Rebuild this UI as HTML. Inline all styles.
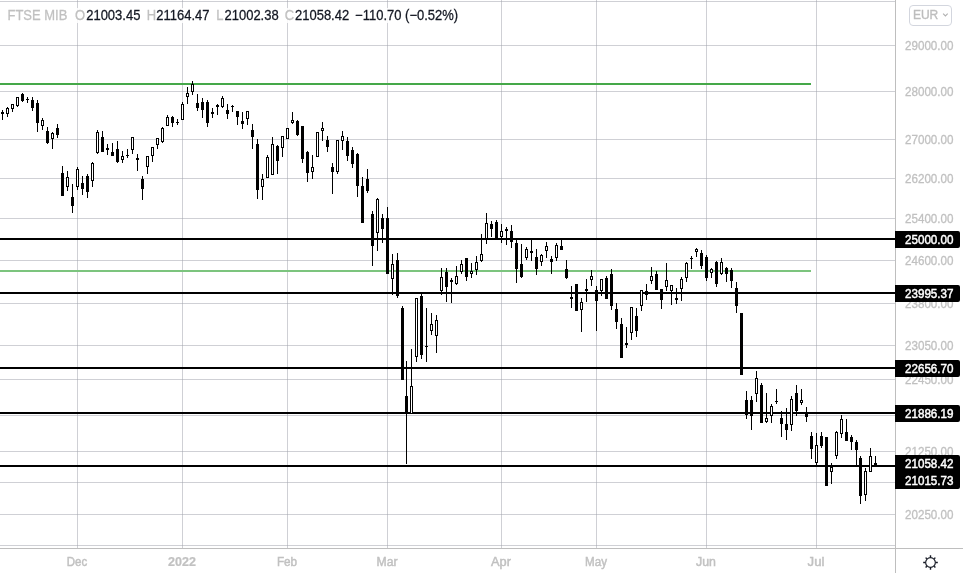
<!DOCTYPE html>
<html><head><meta charset="utf-8"><title>FTSE MIB</title>
<style>
html,body{margin:0;padding:0;background:#fff;}
body{width:963px;height:573px;overflow:hidden;position:relative;}
svg{position:absolute;left:0;top:0;}
.txt{will-change:transform;}
</style></head>
<body>
<svg width="963" height="573" viewBox="0 0 963 573" shape-rendering="crispEdges">
<path fill="rgba(160,162,171,0.5)" d="M0 1h895v1H0zM0 45h895v1H0zM0 91h895v1H0zM0 139h895v1H0zM0 178h895v1H0zM0 218h895v1H0zM0 260h895v1H0zM0 303h895v1H0zM0 345h895v1H0zM0 379h895v1H0zM0 415h895v1H0zM0 451h895v1H0zM0 482h895v1H0zM0 514h895v1H0zM0 545h895v1H0z"/>
<path fill="rgba(160,162,171,0.5)" d="M77 0h1v548h-1zM182 0h1v548h-1zM287 0h1v548h-1zM387 0h1v548h-1zM501 0h1v548h-1zM596 0h1v548h-1zM706 0h1v548h-1zM816 0h1v548h-1z"/>
<rect x="0" y="83" width="811" height="2" fill="#45a849"/>
<rect x="0" y="270" width="811" height="2" fill="#7cc47e"/>
<path fill="#000" d="M0 238h895v2H0zM0 292h895v2H0zM0 367h895v2H0zM0 412h895v2H0zM0 465h895v2H0z"/>
<path fill="#000" d="M2 110h1v10h-1zM1 112h3v2h-3zM7 107h1v10h-1zM6 108h3v6h-3zM12 104h1v8h-1zM11 104h3v5h-3zM17 97h1v10h-1zM16 97h3v9h-3zM22 93h1v9h-1zM21 94h3v7h-3zM27 97h1v6h-1zM26 99h3v1h-3zM32 97h1v14h-1zM31 100h3v8h-3zM37 100h1v32h-1zM36 103h3v20h-3zM42 118h1v12h-1zM41 120h3v6h-3zM47 127h1v17h-1zM46 131h3v12h-3zM52 132h1v17h-1zM51 133h3v6h-3zM57 124h1v14h-1zM56 128h3v7h-3zM62 166h1v30h-1zM61 173h3v23h-3zM67 171h1v20h-1zM66 177h3v10h-3zM72 184h1v29h-1zM71 197h3v9h-3zM77 167h1v23h-1zM76 169h3v18h-3zM82 176h1v19h-1zM81 183h3v6h-3zM87 174h1v24h-1zM86 176h3v16h-3zM92 162h1v25h-1zM91 163h3v18h-3zM97 130h1v24h-1zM96 132h3v21h-3zM102 131h1v21h-1zM101 137h3v15h-3zM107 144h1v11h-1zM106 148h3v2h-3zM112 143h1v13h-1zM111 152h3v4h-3zM117 141h1v22h-1zM116 149h3v13h-3zM122 151h1v12h-1zM121 156h3v4h-3zM127 149h1v9h-1zM126 155h3v1h-3zM132 137h1v17h-1zM131 137h3v13h-3zM137 154h1v17h-1zM136 158h3v2h-3zM142 176h1v24h-1zM141 179h3v10h-3zM147 156h1v18h-1zM146 156h3v11h-3zM152 147h1v15h-1zM151 147h3v9h-3zM157 138h1v11h-1zM156 138h3v7h-3zM162 127h1v16h-1zM161 128h3v14h-3zM167 115h1v11h-1zM166 117h3v9h-3zM172 116h1v11h-1zM171 117h3v6h-3zM177 119h1v6h-1zM176 122h3v1h-3zM182 102h1v18h-1zM181 104h3v16h-3zM187 87h1v17h-1zM186 93h3v4h-3zM192 81h1v14h-1zM191 84h3v8h-3zM197 94h1v17h-1zM196 103h3v5h-3zM202 98h1v20h-1zM201 102h3v8h-3zM207 100h1v27h-1zM206 102h3v21h-3zM212 108h1v10h-1zM211 112h3v2h-3zM217 104h1v11h-1zM216 105h3v2h-3zM222 96h1v12h-1zM221 98h3v9h-3zM227 104h1v15h-1zM226 110h3v4h-3zM232 105h1v7h-1zM231 106h3v1h-3zM237 111h1v14h-1zM236 111h3v6h-3zM242 112h1v17h-1zM241 121h3v3h-3zM247 111h1v14h-1zM246 111h3v8h-3zM252 124h1v25h-1zM251 130h3v7h-3zM257 139h1v60h-1zM256 144h3v46h-3zM262 174h1v26h-1zM261 179h3v8h-3zM267 155h1v23h-1zM266 157h3v21h-3zM272 137h1v38h-1zM271 144h3v31h-3zM277 145h1v29h-1zM276 146h3v15h-3zM282 136h1v21h-1zM281 136h3v12h-3zM287 128h1v11h-1zM286 128h3v11h-3zM292 112h1v12h-1zM291 120h3v3h-3zM297 120h1v16h-1zM296 121h3v14h-3zM302 126h1v37h-1zM301 126h3v33h-3zM307 151h1v31h-1zM306 152h3v21h-3zM312 155h1v24h-1zM311 167h3v5h-3zM317 132h1v25h-1zM316 132h3v25h-3zM322 122h1v19h-1zM321 128h3v3h-3zM327 136h1v16h-1zM326 140h3v7h-3zM332 163h1v31h-1zM331 167h3v5h-3zM337 140h1v34h-1zM336 140h3v32h-3zM342 131h1v19h-1zM341 136h3v5h-3zM347 137h1v24h-1zM346 141h3v15h-3zM352 147h1v21h-1zM351 150h3v14h-3zM357 153h1v44h-1zM356 154h3v32h-3zM362 177h1v46h-1zM361 186h3v37h-3zM367 169h1v24h-1zM366 179h3v12h-3zM372 211h1v55h-1zM371 214h3v32h-3zM377 198h1v53h-1zM376 199h3v34h-3zM382 214h1v29h-1zM381 218h3v11h-3zM387 207h1v67h-1zM386 218h3v56h-3zM392 254h1v41h-1zM391 264h3v15h-3zM397 253h1v45h-1zM396 260h3v36h-3zM402 306h1v74h-1zM401 308h3v72h-3zM406 361h1v103h-1zM405 396h3v16h-3zM411 349h1v65h-1zM410 386h3v28h-3zM416 298h1v64h-1zM415 298h3v59h-3zM421 294h1v65h-1zM420 296h3v59h-3zM426 308h1v54h-1zM425 346h3v1h-3zM431 313h1v22h-1zM430 324h3v7h-3zM436 315h1v38h-1zM435 320h3v16h-3zM441 268h1v27h-1zM440 277h3v14h-3zM446 268h1v34h-1zM445 272h3v15h-3zM451 278h1v25h-1zM450 280h3v2h-3zM456 266h1v19h-1zM455 276h3v8h-3zM461 260h1v14h-1zM460 264h3v8h-3zM466 258h1v23h-1zM465 258h3v19h-3zM471 263h1v15h-1zM470 271h3v3h-3zM476 256h1v19h-1zM475 262h3v8h-3zM481 234h1v28h-1zM480 254h3v7h-3zM486 213h1v31h-1zM485 223h3v16h-3zM491 221h1v16h-1zM490 224h3v5h-3zM496 220h1v20h-1zM495 222h3v16h-3zM501 224h1v19h-1zM500 231h3v6h-3zM506 227h1v18h-1zM505 229h3v2h-3zM511 225h1v23h-1zM510 231h3v11h-3zM516 240h1v43h-1zM515 243h3v26h-3zM521 244h1v34h-1zM520 264h3v13h-3zM526 247h1v13h-1zM525 249h3v9h-3zM531 240h1v21h-1zM530 251h3v2h-3zM536 249h1v26h-1zM535 257h3v12h-3zM541 254h1v12h-1zM540 255h3v7h-3zM546 242h1v16h-1zM545 246h3v5h-3zM551 256h1v18h-1zM550 259h3v3h-3zM556 243h1v18h-1zM555 245h3v13h-3zM561 240h1v10h-1zM560 246h3v4h-3zM566 260h1v19h-1zM565 269h3v9h-3zM571 286h1v22h-1zM570 297h3v2h-3zM576 284h1v27h-1zM575 284h3v27h-3zM581 298h1v34h-1zM580 302h3v8h-3zM586 279h1v23h-1zM585 289h3v2h-3zM591 270h1v16h-1zM590 276h3v4h-3zM596 286h1v45h-1zM595 290h3v11h-3zM601 279h1v17h-1zM600 279h3v12h-3zM606 276h1v23h-1zM605 278h3v21h-3zM611 269h1v41h-1zM610 274h3v32h-3zM616 303h1v26h-1zM615 309h3v13h-3zM621 318h1v40h-1zM620 324h3v34h-3zM626 327h1v21h-1zM625 343h3v2h-3zM631 307h1v33h-1zM630 307h3v26h-3zM636 308h1v29h-1zM635 316h3v15h-3zM641 290h1v21h-1zM640 290h3v16h-3zM646 284h1v16h-1zM645 291h3v4h-3zM651 267h1v17h-1zM650 276h3v5h-3zM656 271h1v19h-1zM655 274h3v16h-3zM661 289h1v20h-1zM660 289h3v11h-3zM666 263h1v28h-1zM665 280h3v7h-3zM671 285h1v20h-1zM670 285h3v6h-3zM676 288h1v16h-1zM675 298h3v2h-3zM681 277h1v24h-1zM680 279h3v10h-3zM686 262h1v20h-1zM685 263h3v15h-3zM691 256h1v13h-1zM690 258h3v1h-3zM696 248h1v9h-1zM695 249h3v3h-3zM701 250h1v19h-1zM700 253h3v13h-3zM706 255h1v26h-1zM705 257h3v21h-3zM711 268h1v10h-1zM710 269h3v4h-3zM716 261h1v26h-1zM715 262h3v22h-3zM721 258h1v17h-1zM720 262h3v12h-3zM726 267h1v15h-1zM725 268h3v6h-3zM731 268h1v20h-1zM730 270h3v11h-3zM736 282h1v31h-1zM735 288h3v18h-3zM741 313h1v62h-1zM740 313h3v62h-3zM746 391h1v28h-1zM745 400h3v15h-3zM751 396h1v34h-1zM750 400h3v16h-3zM756 371h1v31h-1zM755 378h3v16h-3zM761 383h1v40h-1zM760 385h3v38h-3zM766 393h1v30h-1zM765 418h3v4h-3zM771 404h1v19h-1zM770 406h3v10h-3zM776 389h1v15h-1zM775 401h3v1h-3zM781 411h1v26h-1zM780 418h3v6h-3zM786 408h1v32h-1zM785 424h3v6h-3zM791 396h1v35h-1zM790 399h3v26h-3zM796 385h1v31h-1zM795 393h3v18h-3zM801 389h1v16h-1zM800 400h3v3h-3zM806 407h1v15h-1zM805 412h3v5h-3zM811 432h1v27h-1zM810 436h3v13h-3zM816 433h1v32h-1zM815 445h3v18h-3zM821 432h1v16h-1zM820 436h3v10h-3zM826 437h1v49h-1zM825 437h3v49h-3zM831 463h1v21h-1zM830 467h3v5h-3zM836 431h1v28h-1zM835 432h3v24h-3zM841 415h1v23h-1zM840 419h3v15h-3zM846 419h1v22h-1zM845 432h3v9h-3zM851 435h1v15h-1zM850 437h3v5h-3zM856 440h1v26h-1zM855 442h3v8h-3zM860 456h1v48h-1zM859 458h3v38h-3zM865 468h1v33h-1zM864 471h3v24h-3zM870 448h1v24h-1zM869 456h3v16h-3zM875 456h1v11h-1zM874 463h3v4h-3z"/>
<path fill="#fff" d="M7 109h1v4h-1zM12 105h1v3h-1zM17 98h1v7h-1zM42 121h1v4h-1zM52 134h1v4h-1zM67 178h1v8h-1zM77 170h1v16h-1zM92 164h1v16h-1zM97 133h1v19h-1zM122 157h1v2h-1zM132 138h1v11h-1zM147 157h1v9h-1zM152 148h1v7h-1zM157 139h1v5h-1zM162 129h1v12h-1zM167 118h1v7h-1zM182 105h1v14h-1zM187 94h1v2h-1zM192 85h1v6h-1zM222 99h1v7h-1zM247 112h1v6h-1zM262 180h1v6h-1zM267 158h1v19h-1zM272 145h1v29h-1zM282 137h1v10h-1zM287 129h1v9h-1zM292 121h1v1h-1zM312 168h1v3h-1zM317 133h1v23h-1zM322 129h1v1h-1zM337 141h1v30h-1zM342 137h1v3h-1zM377 200h1v32h-1zM392 265h1v13h-1zM411 387h1v26h-1zM416 299h1v57h-1zM431 325h1v5h-1zM436 321h1v14h-1zM441 278h1v12h-1zM456 277h1v6h-1zM461 265h1v6h-1zM471 272h1v1h-1zM476 263h1v6h-1zM481 255h1v5h-1zM486 224h1v14h-1zM501 232h1v4h-1zM526 250h1v7h-1zM541 256h1v5h-1zM546 247h1v3h-1zM556 246h1v11h-1zM581 303h1v6h-1zM591 277h1v2h-1zM601 280h1v10h-1zM631 308h1v24h-1zM641 291h1v14h-1zM651 277h1v3h-1zM666 281h1v5h-1zM671 286h1v4h-1zM681 280h1v8h-1zM686 264h1v13h-1zM696 250h1v1h-1zM711 270h1v2h-1zM721 263h1v10h-1zM756 379h1v14h-1zM766 419h1v2h-1zM771 407h1v8h-1zM791 400h1v24h-1zM801 401h1v1h-1zM816 446h1v16h-1zM831 468h1v3h-1zM836 433h1v22h-1zM841 420h1v13h-1zM865 472h1v22h-1zM870 457h1v14h-1z"/>
<rect x="895" y="0" width="1" height="573" fill="#bebebe"/>
<rect x="0" y="548" width="963" height="1" fill="#bebebe"/>
</svg>
<svg class="txt" width="963" height="573" viewBox="0 0 963 573" font-family="'Liberation Sans', Arial, sans-serif" font-size="12">
<text x="905" y="50" textLength="48.5" lengthAdjust="spacingAndGlyphs" fill="#c1c1c1" stroke="#c1c1c1" stroke-width="0.3">29000.00</text>
<text x="905" y="96" textLength="48.5" lengthAdjust="spacingAndGlyphs" fill="#c1c1c1" stroke="#c1c1c1" stroke-width="0.3">28000.00</text>
<text x="905" y="144" textLength="48.5" lengthAdjust="spacingAndGlyphs" fill="#c1c1c1" stroke="#c1c1c1" stroke-width="0.3">27000.00</text>
<text x="905" y="183" textLength="48.5" lengthAdjust="spacingAndGlyphs" fill="#c1c1c1" stroke="#c1c1c1" stroke-width="0.3">26200.00</text>
<text x="905" y="223" textLength="48.5" lengthAdjust="spacingAndGlyphs" fill="#c1c1c1" stroke="#c1c1c1" stroke-width="0.3">25400.00</text>
<text x="905" y="265" textLength="48.5" lengthAdjust="spacingAndGlyphs" fill="#c1c1c1" stroke="#c1c1c1" stroke-width="0.3">24600.00</text>
<text x="905" y="308" textLength="48.5" lengthAdjust="spacingAndGlyphs" fill="#c1c1c1" stroke="#c1c1c1" stroke-width="0.3">23800.00</text>
<text x="905" y="350" textLength="48.5" lengthAdjust="spacingAndGlyphs" fill="#c1c1c1" stroke="#c1c1c1" stroke-width="0.3">23050.00</text>
<text x="905" y="384" textLength="48.5" lengthAdjust="spacingAndGlyphs" fill="#c1c1c1" stroke="#c1c1c1" stroke-width="0.3">22450.00</text>
<text x="905" y="456" textLength="48.5" lengthAdjust="spacingAndGlyphs" fill="#c1c1c1" stroke="#c1c1c1" stroke-width="0.3">21250.00</text>
<text x="905" y="519" textLength="48.5" lengthAdjust="spacingAndGlyphs" fill="#c1c1c1" stroke="#c1c1c1" stroke-width="0.3">20250.00</text>
<path fill="#000" d="M895 231h63a2 2 0 0 1 2 2v13a2 2 0 0 1 -2 2h-63z"/>
<text x="905" y="244" textLength="48.5" lengthAdjust="spacingAndGlyphs" fill="#fff" stroke="#fff" stroke-width="0.45">25000.00</text>
<path fill="#000" d="M895 285h63a2 2 0 0 1 2 2v13a2 2 0 0 1 -2 2h-63z"/>
<text x="905" y="298" textLength="48.5" lengthAdjust="spacingAndGlyphs" fill="#fff" stroke="#fff" stroke-width="0.45">23995.37</text>
<path fill="#000" d="M895 360h63a2 2 0 0 1 2 2v13a2 2 0 0 1 -2 2h-63z"/>
<text x="905" y="373" textLength="48.5" lengthAdjust="spacingAndGlyphs" fill="#fff" stroke="#fff" stroke-width="0.45">22656.70</text>
<path fill="#000" d="M895 405h63a2 2 0 0 1 2 2v13a2 2 0 0 1 -2 2h-63z"/>
<text x="905" y="418" textLength="48.5" lengthAdjust="spacingAndGlyphs" fill="#fff" stroke="#fff" stroke-width="0.45">21886.19</text>
<path fill="#000" d="M895 455h63a2 2 0 0 1 2 2v30a2 2 0 0 1 -2 2h-63z"/>
<text x="905" y="468" textLength="48.5" lengthAdjust="spacingAndGlyphs" fill="#fff" stroke="#fff" stroke-width="0.45">21058.42</text>
<text x="905" y="485" textLength="48.5" lengthAdjust="spacingAndGlyphs" fill="#fff" stroke="#fff" stroke-width="0.45">21015.73</text>
<text x="77" y="566" text-anchor="middle" fill="#c1c1c1" stroke="#c1c1c1" stroke-width="0.45" textLength="20.4" lengthAdjust="spacingAndGlyphs">Dec</text>
<text x="182" y="566" text-anchor="middle" font-weight="bold" fill="#c1c1c1" stroke="#c1c1c1" stroke-width="0.2" textLength="27.9" lengthAdjust="spacingAndGlyphs">2022</text>
<text x="287" y="566" text-anchor="middle" fill="#c1c1c1" stroke="#c1c1c1" stroke-width="0.45" textLength="20.2" lengthAdjust="spacingAndGlyphs">Feb</text>
<text x="387" y="566" text-anchor="middle" fill="#c1c1c1" stroke="#c1c1c1" stroke-width="0.45" textLength="21" lengthAdjust="spacingAndGlyphs">Mar</text>
<text x="501" y="566" text-anchor="middle" fill="#c1c1c1" stroke="#c1c1c1" stroke-width="0.45" textLength="19.9" lengthAdjust="spacingAndGlyphs">Apr</text>
<text x="596" y="566" text-anchor="middle" fill="#c1c1c1" stroke="#c1c1c1" stroke-width="0.45" textLength="21.9" lengthAdjust="spacingAndGlyphs">May</text>
<text x="706" y="566" text-anchor="middle" fill="#c1c1c1" stroke="#c1c1c1" stroke-width="0.45" textLength="19.9" lengthAdjust="spacingAndGlyphs">Jun</text>
<text x="816" y="566" text-anchor="middle" fill="#c1c1c1" stroke="#c1c1c1" stroke-width="0.45" textLength="16.8" lengthAdjust="spacingAndGlyphs">Jul</text>
<rect x="4" y="8" width="458" height="15" fill="#fff" fill-opacity="0.85" shape-rendering="crispEdges"/>
<g font-size="13" transform="translate(0 20) scale(1 1.1) translate(0 -20)">
<text x="7.5" y="20" fill="#c1c1c1" stroke="#c1c1c1" stroke-width="0.25">FTSE MIB</text>
<text x="75.0" y="20" fill="#c1c1c1" stroke="#c1c1c1" stroke-width="0.25">O</text>
<text x="86.2" y="20" fill="#131722" stroke="#131722" stroke-width="0.25">21003.45</text>
<text x="146.8" y="20" fill="#c1c1c1" stroke="#c1c1c1" stroke-width="0.25">H</text>
<text x="156.3" y="20" fill="#131722" stroke="#131722" stroke-width="0.25">21164.47</text>
<text x="216.3" y="20" fill="#c1c1c1" stroke="#c1c1c1" stroke-width="0.25">L</text>
<text x="224.5" y="20" fill="#131722" stroke="#131722" stroke-width="0.25">21002.38</text>
<text x="284.7" y="20" fill="#c1c1c1" stroke="#c1c1c1" stroke-width="0.25">C</text>
<text x="295.0" y="20" fill="#131722" stroke="#131722" stroke-width="0.25">21058.42</text>
<text x="355.1" y="20" fill="#131722" stroke="#131722" stroke-width="0.25">−110.70 (−0.52%)</text>
</g>
<circle cx="930.5" cy="562.5" r="4.85" fill="none" stroke="#131722" stroke-width="1.15"/><path d="M935.70 562.50L937.80 562.50M934.18 566.18L935.38 567.38M930.50 567.70L930.50 569.80M926.82 566.18L925.62 567.38M925.30 562.50L923.20 562.50M926.82 558.82L925.62 557.62M930.50 557.30L930.50 555.20M934.18 558.82L935.38 557.62" stroke="#131722" stroke-width="1.4" fill="none"/>
<rect x="909.5" y="5.5" width="42" height="20" rx="3.5" fill="none" stroke="#d3d6de" stroke-width="1"/>
<text x="912.9" y="19" font-size="12" fill="#bdbdbd" stroke="#bdbdbd" stroke-width="0.35">EUR</text>
<path d="M943.1 13.6L945.4 15.9L947.7 13.6" fill="none" stroke="#b0b0b0" stroke-width="1.1"/>
</svg>
</body></html>
